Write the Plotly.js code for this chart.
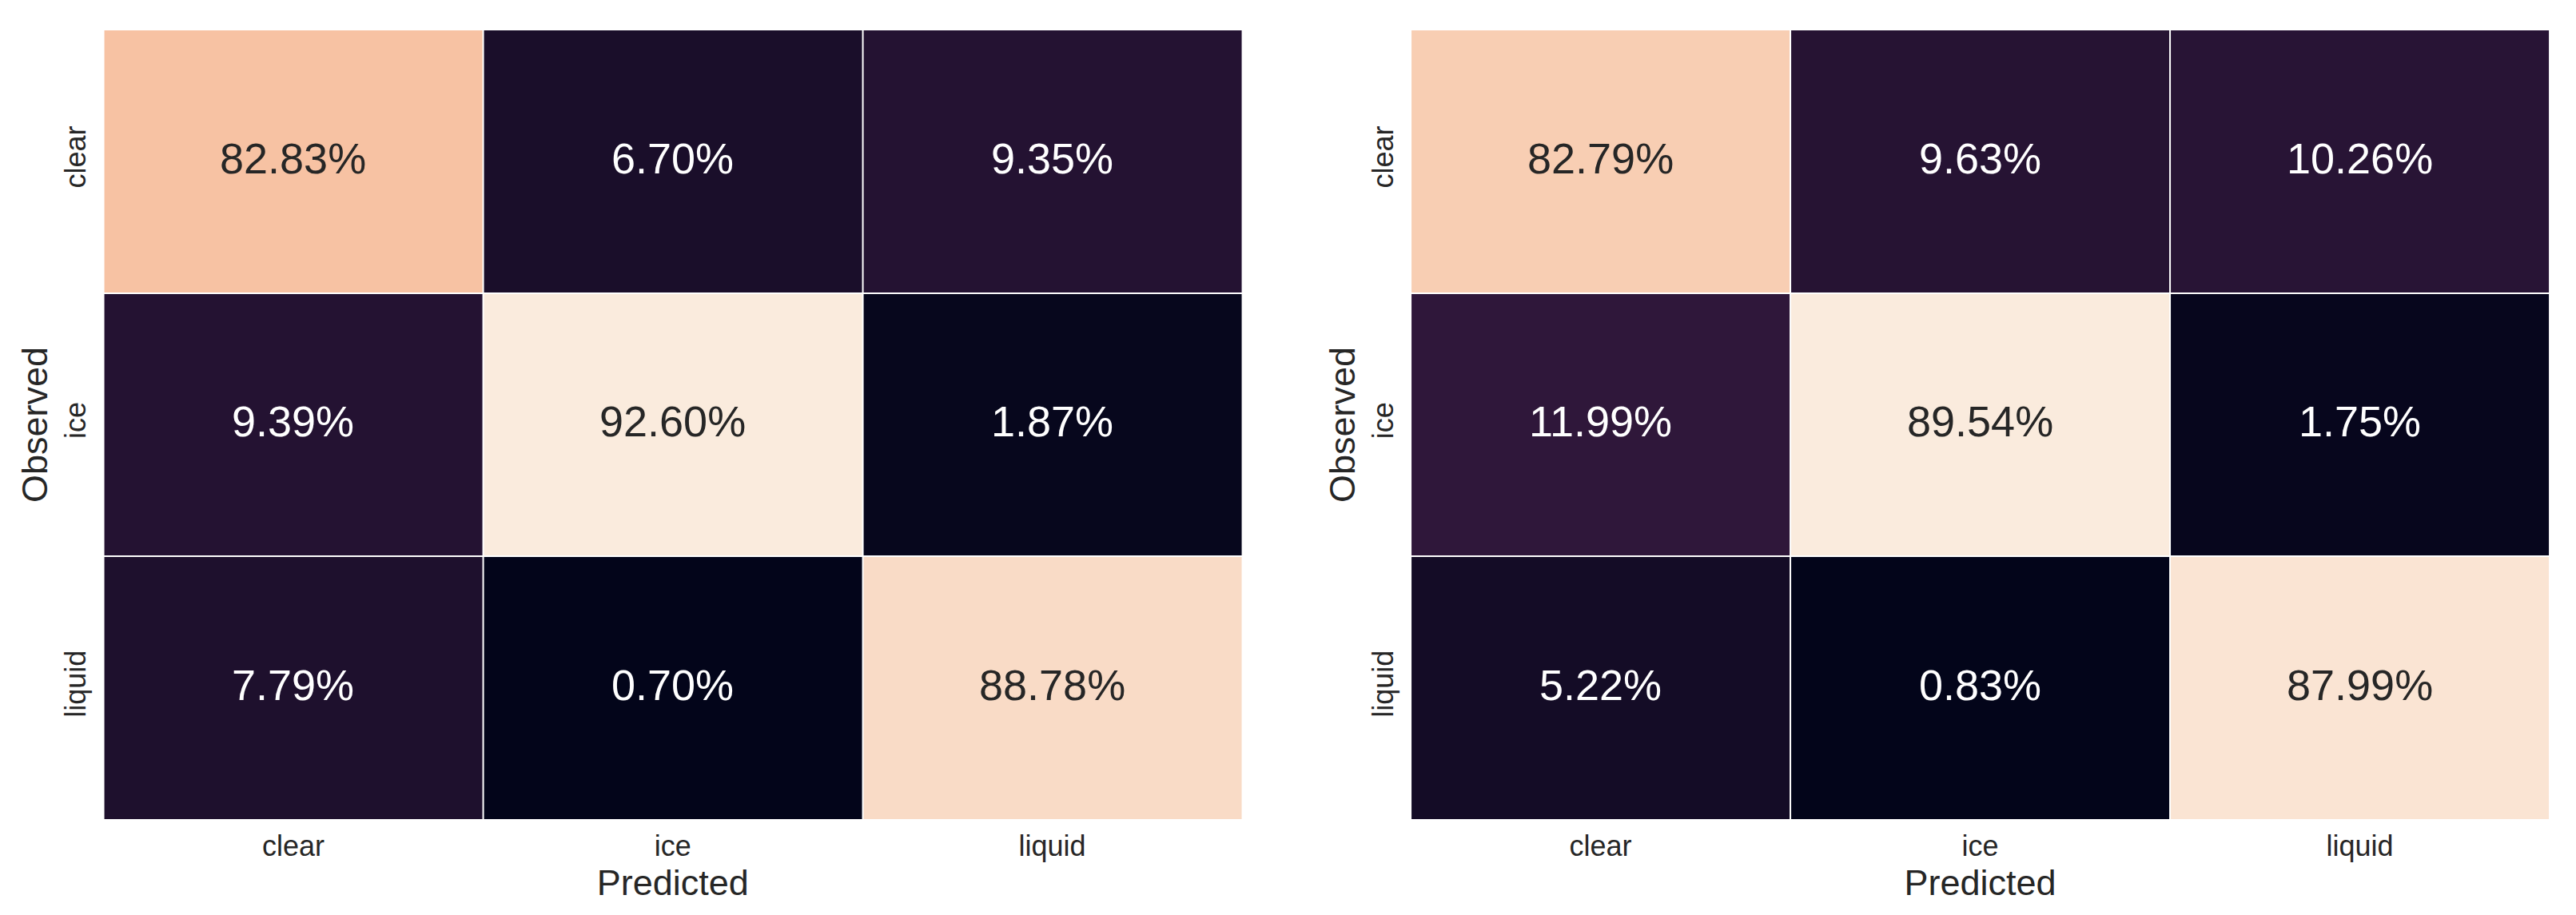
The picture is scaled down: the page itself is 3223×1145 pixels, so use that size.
<!DOCTYPE html>
<html>
<head>
<meta charset="utf-8">
<script src="https://cdn.plot.ly/plotly-3.0.1.min.js"></script>
<style>html,body{margin:0;padding:0;background:#fff;}#chart{width:3223px;height:1145px;}</style>
</head>
<body>
<div id="chart"></div>
<script>
// Categories
var predictedLabels = ['clear', 'ice', 'liquid'];
var observedLabels = ['clear', 'ice', 'liquid'];

// Left confusion matrix (percent), rows = observed, cols = predicted
var leftClear  = [82.83, 6.70, 9.35];
var leftIce    = [9.39, 92.60, 1.87];
var leftLiquid = [7.79, 0.70, 88.78];

// Right confusion matrix (percent)
var rightClear  = [82.79, 9.63, 10.26];
var rightIce    = [11.99, 89.54, 1.75];
var rightLiquid = [5.22, 0.83, 87.99];

var xTitle = 'Predicted';
var yTitle = 'Observed';

// seaborn "rocket" colormap anchors
var rocket = [
  [0.0, '#03051a'],
  [1/7, '#35193e'],
  [2/7, '#701f57'],
  [3/7, '#ad1759'],
  [4/7, '#e13342'],
  [5/7, '#f37651'],
  [6/7, '#f6b48f'],
  [1.0, '#faebdd']
];

var FONT = 'Liberation Sans, Arial, Helvetica, sans-serif';
var INK = '#262626';

function makeTrace(z, xa, ya) {
  return {
    type: 'heatmap',
    x: predictedLabels,
    y: observedLabels,
    z: z,
    colorscale: rocket,
    showscale: false,
    xgap: 2,
    ygap: 2,
    xaxis: xa,
    yaxis: ya,
    hovertemplate: '%{y} / %{x}: %{z:.2f}%<extra></extra>'
  };
}

function makeAnnotations(z, xa, ya) {
  var flat = [].concat.apply([], z);
  var mn = Math.min.apply(null, flat), mx = Math.max.apply(null, flat);
  var out = [];
  for (var i = 0; i < z.length; i++) {
    for (var j = 0; j < z[i].length; j++) {
      var t = (z[i][j] - mn) / (mx - mn);
      out.push({
        xref: xa, yref: ya,
        x: predictedLabels[j], y: observedLabels[i],
        text: z[i][j].toFixed(2) + '%',
        showarrow: false,
        yshift: 4,
        font: {family: FONT, size: 54, color: t > 0.5 ? INK : '#ffffff'}
      });
    }
  }
  return out;
}

var zLeft = [leftClear, leftIce, leftLiquid];
var zRight = [rightClear, rightIce, rightLiquid];

var data = [makeTrace(zLeft, 'x', 'y'), makeTrace(zRight, 'x2', 'y2')];

function xAxis(domain, anchor) {
  return {
    domain: domain, anchor: anchor,
    showgrid: false, zeroline: false, showline: false,
    ticks: '', ticklabelstandoff: 8,
    tickfont: {family: FONT, size: 36, color: INK},
    title: {text: xTitle, font: {family: FONT, size: 45, color: INK}, standoff: 2}
  };
}
function yAxis(anchor) {
  return {
    domain: [0.10393, 0.96769], anchor: anchor,
    autorange: 'reversed',
    showgrid: false, zeroline: false, showline: false,
    ticks: '', tickangle: -90, ticklabelstandoff: 14,
    tickfont: {family: FONT, size: 36, color: INK},
    title: {text: yTitle, font: {family: FONT, size: 45, color: INK}, standoff: 0}
  };
}

var layout = {
  width: 3223, height: 1145,
  margin: {l: 0, r: 0, t: 0, b: 0},
  paper_bgcolor: '#ffffff',
  plot_bgcolor: '#ffffff',
  font: {family: FONT, color: INK},
  showlegend: false,
  xaxis: xAxis([0.04018, 0.48216], 'y'),
  yaxis: yAxis('x'),
  xaxis2: xAxis([0.54763, 0.98976], 'y2'),
  yaxis2: yAxis('x2'),
  annotations: makeAnnotations(zLeft, 'x', 'y').concat(makeAnnotations(zRight, 'x2', 'y2'))
};

Plotly.newPlot('chart', data, layout, {displayModeBar: false, staticPlot: true});
</script>
</body>
</html>
